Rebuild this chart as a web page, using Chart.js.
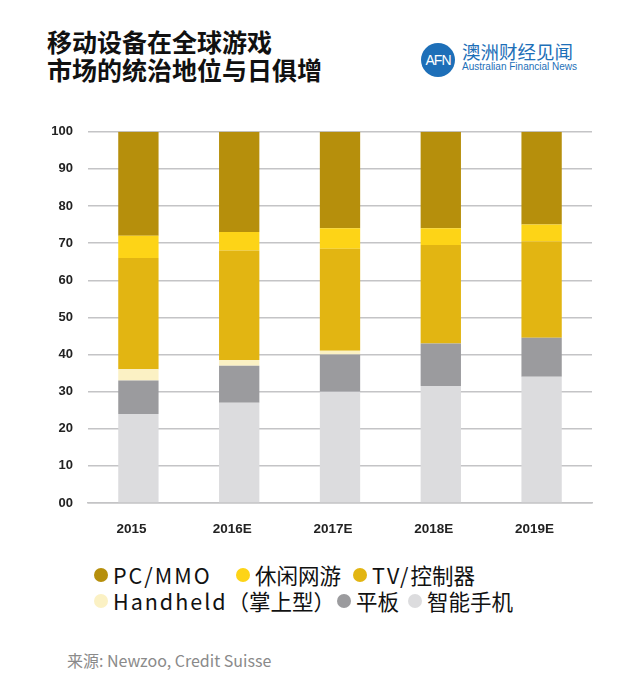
<!DOCTYPE html>
<html>
<head>
<meta charset="utf-8">
<script src="https://cdn.jsdelivr.net/npm/chart.js@4/dist/chart.umd.min.js"></script>
<style>
  body { margin: 0; background: #fff; font-family: "Noto Sans CJK SC", "Noto Sans", sans-serif; }
  #page { position: relative; width: 640px; height: 695px; overflow: hidden; }
  #title { position: absolute; left: 47px; top: 27px; font-size: 25px; font-weight: bold; line-height: 28px; color: #111; }
  #logo { position: absolute; left: 421px; top: 43px; }
  #logo .circle { position: absolute; left: 0; top: 0; width: 34px; height: 34px; border-radius: 50%; background: #1d6fb8; color: #fff; font: 14px "Liberation Sans", sans-serif; line-height: 34px; text-align: center; letter-spacing: -1px; }
  #logo .cn { position: absolute; left: 41px; top: -1px; font-size: 18.5px; line-height: 1; color: #1d6fb8; white-space: nowrap; }
  #logo .en { position: absolute; left: 41px; top: 19px; font: 10px "Liberation Sans", sans-serif; line-height: 1; color: #1d6fb8; white-space: nowrap; }
  #chartBox { position: absolute; left: 0; top: 109px; width: 640px; height: 431px; }
  #legend { position: absolute; left: 0; top: 0; width: 640px; font-size: 21.5px; color: #111; }
  #legend .item { position: absolute; white-space: nowrap; line-height: 1; }
  #legend .dot { position: absolute; left: 0; width: 14px; height: 14px; border-radius: 50%; }
  #legend .txt { position: absolute; left: 19px; top: -4px; }
  #legend .lat { letter-spacing: 2px; }
  #source { position: absolute; left: 67px; top: 650px; font-size: 16px; line-height: 20px; color: #8a8a8a; }
</style>
</head>
<body>
<div id="page">
  <div id="title">移动设备在全球游戏<br>市场的统治地位与日俱增</div>
  <div id="logo">
    <div class="circle">AFN</div>
    <div class="cn">澳洲财经见闻</div>
    <div class="en">Australian Financial News</div>
  </div>
  <div id="chartBox"><canvas id="chart"></canvas></div>
  <div id="legend"></div>
  <div id="source">来源: Newzoo, Credit Suisse</div>
</div>
<script>
const years = ['2015', '2016E', '2017E', '2018E', '2019E']

const smartphone = [24, 27, 30, 31.5, 34]
const tablet = [9, 10, 10, 11.5, 10.5]
const handheld = [3, 1.5, 1, 0, 0]
const tvConsole = [30, 29.5, 27.5, 26.5, 26]
const casual = [6, 5, 5.5, 4.5, 4.5]
const pcMmo = [28, 27, 26, 26, 25]

const seriesLabels = ['智能手机', '平板', 'Handheld（掌上型）', 'TV/控制器', '休闲网游', 'PC/MMO']
const seriesColors = ['#dcdcde', '#9b9b9e', '#fbf1c4', '#e2b512', '#fdd417', '#b68f0c']
const seriesData = [smartphone, tablet, handheld, tvConsole, casual, pcMmo]

// legend: series index and where its dot sits
const legendOrder = [5, 4, 3, 2, 1, 0]
const legendSpots = [[94, 568], [236, 568], [353, 568], [94, 594], [337, 594], [408, 594]]
const legendBox = document.getElementById('legend')
legendOrder.forEach(function(i, n) {
    const item = document.createElement('div')
    item.className = 'item'
    item.style.left = legendSpots[n][0] + 'px'
    item.style.top = legendSpots[n][1] + 'px'
    // latin runs get a little extra tracking, like the original
    const label = seriesLabels[i].replace(/([A-Za-z\/]+)/g, '<span class="lat">$1</span>')
    item.innerHTML = '<span class="dot" style="background:' + seriesColors[i] + '"></span>' +
        '<span class="txt">' + label + '</span>'
    legendBox.appendChild(item)
})

const ctx = document.getElementById('chart')

new Chart(ctx, {
    type: 'bar',
    data: {
        labels: years,
        datasets: seriesData.map(function(values, i) {
            return {
                label: seriesLabels[i],
                data: values,
                backgroundColor: seriesColors[i],
                borderWidth: 0,
                categoryPercentage: 1,
                barPercentage: 0.4
            }
        })
    },
    options: {
        responsive: true,
        maintainAspectRatio: false,
        animation: false,
        layout: {
            padding: { top: 12, right: 48, left: 0, bottom: 0 }
        },
        scales: {
            x: {
                stacked: true,
                grid: { display: false, drawTicks: false },
                border: { display: true, color: '#c4c4c6', width: 1.5 },
                ticks: {
                    color: '#222',
                    padding: 18,
                    labelOffset: -7,
                    font: { family: 'Liberation Sans', size: 13.5, weight: 'bold' }
                },
                afterFit: function(axis) { axis.height = 37 }
            },
            y: {
                stacked: true,
                min: 0,
                max: 100,
                grid: { color: '#c4c4c6', lineWidth: 1.5, drawTicks: false },
                border: { display: false },
                ticks: {
                    stepSize: 10,
                    color: '#222',
                    padding: 15,
                    font: { family: 'Liberation Sans', size: 13, weight: 'bold' },
                    callback: function(value) {
                        return value === 0 ? '00' : value
                    }
                },
                afterFit: function(axis) { axis.width = 88 }
            }
        },
        plugins: {
            legend: { display: false },
            tooltip: { enabled: false }
        }
    }
})
</script>
</body>
</html>
